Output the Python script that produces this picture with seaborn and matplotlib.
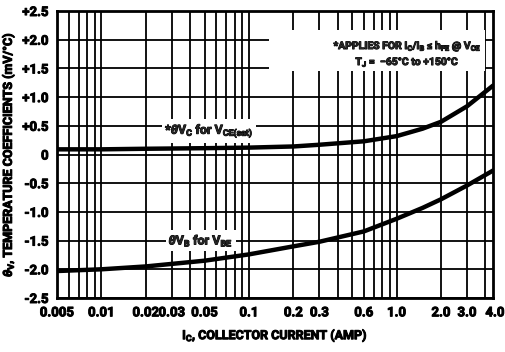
import matplotlib
matplotlib.use("Agg")
import matplotlib.pyplot as plt
import matplotlib.patheffects as pe
import matplotlib.text as mtext
from matplotlib.ticker import LogLocator, NullFormatter, FixedLocator, FixedFormatter
from matplotlib.patches import Rectangle
import numpy as np
import pandas as pd
import seaborn as sns

# ---- data ----
ic_amp = [0.005, 0.01, 0.02, 0.05, 0.1, 0.2, 0.3, 0.6, 1.0, 1.5, 2.0, 3.0, 4.5]
theta_vc_sat = [0.09, 0.09, 0.10, 0.11, 0.12, 0.14, 0.17, 0.23, 0.32, 0.45, 0.57, 0.84, 1.20]
theta_vb_be = [-2.03, -2.00, -1.95, -1.85, -1.74, -1.60, -1.52, -1.34, -1.12, -0.93, -0.78, -0.54, -0.28]

x_ticks = [0.005, 0.01, 0.02, 0.03, 0.05, 0.1, 0.2, 0.3, 0.6, 1.0, 2.0, 3.0, 4.0]
x_tick_labels = ["0.005", "0.01", "0.02", "0.03", "0.05", "0.1", "0.2", "0.3",
                 "0.6", "1.0", "2.0", "3.0", "4.0"]
y_ticks = [2.5, 2.0, 1.5, 1.0, 0.5, 0.0, -0.5, -1.0, -1.5, -2.0, -2.5]
y_tick_labels = ["+2.5", "+2.0", "+1.5", "+1.0", "+0.5", "0", "-0.5", "-1.0",
                 "-1.5", "-2.0", "-2.5"]

sns.set_theme(style="white")
FONT = ["Roboto", "DejaVu Sans"]
plt.rcParams["font.family"] = FONT
plt.rcParams["font.weight"] = "bold"
plt.rcParams["mathtext.fontset"] = "custom"
plt.rcParams["mathtext.rm"] = "Roboto:bold"
plt.rcParams["mathtext.it"] = "Roboto:italic:bold"
plt.rcParams["mathtext.bf"] = "Roboto:bold"

df = pd.DataFrame({"ic": ic_amp * 2,
                   "val": theta_vc_sat + theta_vb_be,
                   "curve": ["vc"] * len(ic_amp) + ["vb"] * len(ic_amp)})

fig = plt.figure(figsize=(5.06, 3.52), dpi=100)
ax = fig.add_axes([57 / 506, 1 - 298 / 352, (493 - 57) / 506, (298 - 11) / 352])

sns.lineplot(data=df, x="ic", y="val", units="curve", estimator=None,
             color="black", linewidth=3.2, ax=ax, legend=False, zorder=3)

ax.set_xscale("log")
ax.set_xlim(0.005, 4.5)
ax.set_ylim(-2.5, 2.5)

ax.xaxis.set_major_locator(FixedLocator(x_ticks))
ax.xaxis.set_major_formatter(FixedFormatter(x_tick_labels))
ax.xaxis.set_minor_locator(LogLocator(base=10, subs=np.arange(1, 10), numticks=20))
ax.xaxis.set_minor_formatter(NullFormatter())
ax.yaxis.set_major_locator(FixedLocator(y_ticks))
ax.yaxis.set_major_formatter(FixedFormatter(y_tick_labels))

ax.set_axisbelow(True)
ax.grid(True, which="both", axis="x", color="black", linewidth=1.3)
ax.grid(True, which="major", axis="y", color="black", linewidth=1.3)
ax.tick_params(axis="both", which="both", length=0, labelsize=9.5, colors="black")
ax.tick_params(axis="x", pad=6)
ax.tick_params(axis="y", pad=6)
for lab in ax.get_xticklabels() + ax.get_yticklabels():
    lab.set_fontweight("bold")
xl = ax.get_xticklabels()
xl[-1].set_horizontalalignment("left")

for sp in ax.spines.values():
    sp.set_visible(True)
    sp.set_color("black")
    sp.set_linewidth(2.0)

ax.set_xlabel(r"I$_\mathrm{C}$, COLLECTOR CURRENT (AMP)", fontsize=9,
              fontweight="bold", color="black", labelpad=5)
ax.set_ylabel(r"$\theta_\mathrm{V}$, TEMPERATURE COEFFICIENTS (mV/°C)", fontsize=9,
              fontweight="bold", color="black", labelpad=4)

# white panel behind the note
ax.add_patch(Rectangle((0.137, 1.46), 3.97 - 0.137, 2.17 - 1.46,
                       facecolor="white", edgecolor="none", zorder=1))
ax.text(1.18, 1.89, r"*APPLIES FOR I$_\mathrm{C}$/I$_\mathrm{B}$ ≤ h$_\mathrm{FE}$ @ V$_\mathrm{CE}$",
        ha="center", va="center", fontsize=7.5, fontweight="bold", zorder=4)
ax.text(1.18, 1.62, r"T$_\mathrm{J}$ =  −65°C to +150°C",
        ha="center", va="center", fontsize=7.5, fontweight="bold", zorder=4)

ax.text(0.027, 0.41, r"*$\theta$V$_\mathrm{C}$ for V$_\mathrm{CE(sat)}$",
        ha="left", va="center", fontsize=9, fontweight="bold", zorder=4,
        bbox=dict(facecolor="white", edgecolor="none", pad=2.0))
ax.text(0.0285, -1.5, r"$\theta$V$_\mathrm{B}$ for V$_\mathrm{BE}$",
        ha="left", va="center", fontsize=9, fontweight="bold", zorder=4,
        bbox=dict(facecolor="white", edgecolor="none", pad=2.0))

# embolden all text (heavy print look of the reference)
for t in fig.findobj(mtext.Text):
    t.set_path_effects([pe.withStroke(linewidth=0.7, foreground="black")])

fig.savefig("out.png", dpi=100)
